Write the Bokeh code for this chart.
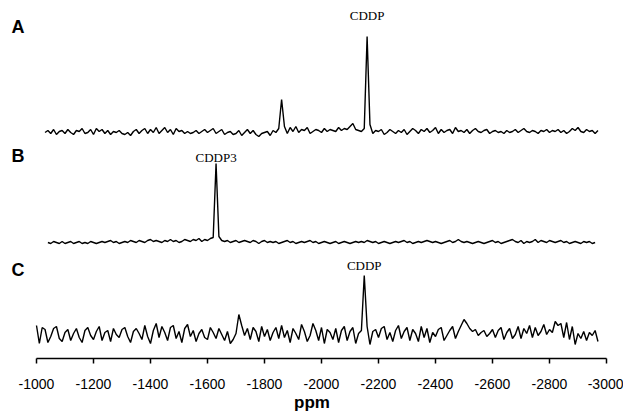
import numpy as np
from bokeh.plotting import figure
from bokeh.models import Range1d, Label, FixedTicker
from bokeh.embed import file_html
from bokeh.resources import INLINE

# ---- data (intensity in arbitrary units) ----
ppm_step = -10
a_start = -1030
b_start = -1040
c_start = -1000

a_vals = [0, 2, -1, 3, -2, 1, 2, -1, 3, 0,
          -2, 2, 1, 4, -1, 0, 3, -2, 4, 1,
          3, -1, 2, -2, 1, 0, 2, -1, -2, 0,
          -3, 1, 3, -1, 2, 4, -1, 3, 0, 5,
          -1, 2, 5, 0, 3, -2, 4, 1, 2, -1,
          1, -1, 0, 2, -1, 1, 3, 0, 2, 4,
          -1, 1, 3, -2, 0, 1, -2, -1, 2, -3,
          0, 3, -1, 2, -2, -4, -1, 0, 1, -3,
          2, 0, 4, 33, 6, -1, 5, 1, 6, 0,
          3, 2, 5, -1, 1, 3, 2, 0, 4, 1,
          3, 2, 1, 5, 2, 4, 3, 6, 9, 3,
          2, 1, 4, 96, 8, -1, 2, 1, 3, -2,
          0, 3, 1, -1, 2, 0, 3, -2, 1, 4,
          2, -1, 3, 1, 4, 0, 2, 5, -1, 3,
          0, 2, 3, -1, 5, 1, 2, 0, 3, -1,
          2, 4, 1, 0, 2, 3, -1, 1, 2, 0,
          1, -1, 2, 0, 1, 3, 0, 2, 4, 1,
          0, 2, 1, -1, 2, 1, 3, 0, 2, 1,
          3, 0, 2, -1, 1, 4, 2, 5, 1, 0,
          3, 1, 2, -1, 2]

b_vals = [0, -1, 1, 0, -1, 1, -1, 0, 1, -1,
          0, 1, -1, 0, -1, 1, 0, -1, 0, 1,
          0, 1, 2, 0, 1, -1, 0, 1, 0, 2,
          1, 0, 2, 1, 0, 2, 3, 1, 2, 1,
          0, 2, 1, 3, 1, 2, 0, 1, 3, 2,
          1, 3, 2, 4, 1, 3, 2, 4, 5, 79,
          6, 2, 1, 2, 0, 1, 2, 0, 1, 2,
          1, 0, 2, 1, -1, 1, 2, 0, 1, 0,
          1, -1, 0, 1, 2, 0, 1, -1, 0, 1,
          0, 1, 2, 0, 1, -1, 0, 1, 0, -1,
          0, 1, -1, 0, 1, 0, -1, 0, 1, 0,
          1, 0, 2, 1, 0, 1, -1, 0, 1, 0,
          -1, 0, 1, 0, 1, 2, 0, 1, -1, 0,
          1, 0, 1, 2, 1, 0, 1, 0, -1, 0,
          1, 2, 0, 1, 3, 1, 0, 1, 0, -1,
          0, 1, 0, -1, 0, 1, 2, 0, 1, -1,
          0, 1, 2, 3, 1, 0, 2, -1, 1, 0,
          1, 3, 0, 2, 1, 0, 2, 1, 0, 1,
          2, 0, 1, -1, 0, 1, 0, -1, 1, 0,
          1, -1, 0]

c_vals = [9, -9, 7, 5, -8, -2, 6, 8, -4, -7,
          2, 5, -6, 1, 6, -3, -8, 4, 7, -1,
          -5, 3, 8, -6, 2, 4, -7, 6, 0, -3,
          5, 7, -2, -8, 3, 6, 1, -5, 9, -2,
          -9, 4, 11, -3, 8, 2, -6, 7, 9, -4,
          3, -8, 6, 10, -2, 4, -7, 1, 5, -3,
          -5, 7, 2, -4, 6, 0, -6, 3, -9, -5,
          1, 20, 9, -1, 6, -5, 7, 3, -7, 8,
          -2, 5, -6, 2, 7, -4, 9, -3, 4, -8,
          6, 1, -5, 10, 3, -7, -1, 11, 4, -6,
          7, -9, 5, 2, -5, 6, -8, 4, 8, -6,
          3, 7, -9, 1, 4, 59, 8, -10, 3, 5,
          -3, 6, 8, -5, 2, -7, 4, 9, -4, 3,
          7, -6, 5, 1, -7, 8, -3, 6, -8, 2,
          -2, 5, 7, -6, -1, 4, 8, -4, 3, 9,
          15, 11, 6, 3, 5, -1, 2, 4, -2, 1,
          5, -3, 4, 7, -5, 2, 6, -4, 0, 8,
          -4, 6, 1, 9, -3, 7, -1, 3, 10, 0,
          5, 2, 13, 9, 11, -3, 12, -5, 8, -10,
          1, -4, 3, -6, 2, -1, 4, -7]

tick_values = [-1000, -1200, -1400, -1600, -1800, -2000, -2200, -2400, -2600, -2800, -3000]

peak_labels = ["CDDP", "CDDP3", "CDDP"]
peak_ppm = [-2160, -1630, -2150]
panel_letters = ["A", "B", "C"]

# vertical offsets of the stacked traces (layout)
off_a, off_b, off_c = 226, 116, 24

a_ppm = a_start + ppm_step * np.arange(len(a_vals))
b_ppm = b_start + ppm_step * np.arange(len(b_vals))
c_ppm = c_start + ppm_step * np.arange(len(c_vals))

p = figure(width=623, height=414, output_backend="svg", toolbar_location=None,
           x_range=Range1d(-873.7, -3059.6), y_range=Range1d(0, 358),
           min_border_left=0, min_border_right=0, min_border_top=0,
           min_border_bottom=56)

p.line(a_ppm, np.array(a_vals) + off_a, line_color="black", line_width=1.4)
p.line(b_ppm, np.array(b_vals) + off_b, line_color="black", line_width=1.4)
p.line(c_ppm, np.array(c_vals) + off_c, line_color="black", line_width=1.4)

p.yaxis.visible = False
p.grid.visible = False
p.outline_line_color = None

ax = p.xaxis[0]
ax.ticker = FixedTicker(ticks=tick_values)
ax.major_label_overrides = {t: str(t) for t in tick_values}
ax.bounds = (tick_values[-1], tick_values[0])
ax.axis_line_color = "black"
ax.axis_line_width = 1.5
ax.major_tick_in = 0
ax.major_tick_out = 5
ax.major_tick_line_width = 1.5
ax.minor_tick_out = 0
ax.minor_tick_in = 0
ax.major_label_text_font = "Liberation Sans"
ax.major_label_text_font_size = "14px"
ax.major_label_text_color = "black"
ax.major_label_standoff = 15
ax.axis_label = "ppm"
ax.axis_label_text_font = "Liberation Sans"
ax.axis_label_text_font_size = "17px"
ax.axis_label_text_font_style = "bold"
ax.axis_label_text_color = "black"
ax.axis_label_standoff = 1

# panel letters
for letter, y in zip(panel_letters, [332, 203, 89]):
    p.add_layout(Label(x=-912, y=y, text=letter, text_font="Liberation Sans",
                       text_font_size="18px", text_font_style="bold",
                       text_baseline="middle", text_align="left", text_color="black"))

# peak labels
for txt, xp, y in zip(peak_labels, peak_ppm, [343, 201, 93]):
    p.add_layout(Label(x=xp, y=y, text=txt, text_font="Liberation Serif",
                       text_font_size="13px", text_baseline="middle",
                       text_align="center", text_color="black"))

open("out.html", "w").write(file_html(p, INLINE))
